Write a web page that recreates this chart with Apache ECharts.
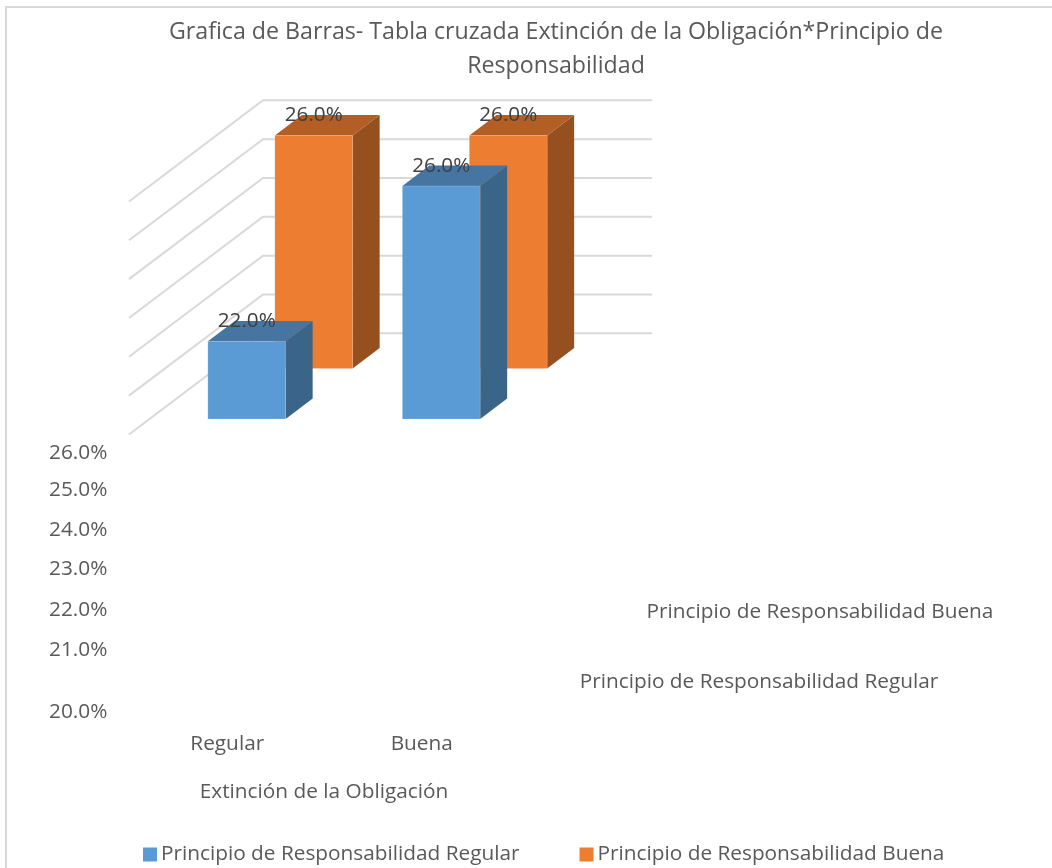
<!DOCTYPE html>
<html><head><meta charset="utf-8">
<style>html,body{margin:0;padding:0;background:#fff}#c{width:1052px;height:868px}</style>
<script src="https://cdn.jsdelivr.net/npm/echarts@6/dist/echarts.min.js"></script>
</head><body><div id="c"></div>
<script>
const categories = ['Regular', 'Buena'];
const regularValues = [22, 26];
const buenaValues = [26, 26];
const gridValues = [20, 21, 22, 23, 24, 25, 26];
const valueTickLabels = ['26.0%', '25.0%', '24.0%', '23.0%', '22.0%', '21.0%', '20.0%'];
const valueTickY = [452, 489, 529, 568, 609, 649, 711];
const seriesNames = ['Principio de Responsabilidad Regular', 'Principio de Responsabilidad Buena'];
const titleLines = 'Grafica de Barras- Tabla cruzada Extinción de la Obligación*Principio de\nResponsabilidad';
const xAxisTitle = 'Extinción de la Obligación';

const FONT = '"Open Sans", sans-serif';
const SLOPE = 0.755;
const BAR_DEPTH = 27, BUENA_DEPTH = 67, WALL_DEPTH = 113.5, FRONT_DEPTH = -20.5;
const shift = (p, d) => [p[0] + d, p[1] - d * SLOPE];

function barRender(depth, fc, tc, sc) {
  return function (params, api) {
    const idx = api.value(0), val = api.value(1);
    const top = shift(api.coord([idx, val]), depth);
    const base = shift(api.coord([idx, 20]), depth);
    const w = api.size([1, 0])[0] * 0.4;
    const l = top[0] - w / 2, r = top[0] + w / 2;
    return { type: 'group', children: [
      { type: 'polygon', shape: { points: [[r, top[1]], shift([r, top[1]], BAR_DEPTH), shift([r, base[1]], BAR_DEPTH), [r, base[1]]] }, style: { fill: sc } },
      { type: 'polygon', shape: { points: [[l, top[1]], shift([l, top[1]], BAR_DEPTH), shift([r, top[1]], BAR_DEPTH), [r, top[1]]] }, style: { fill: tc } },
      { type: 'rect', shape: { x: l, y: top[1], width: w, height: base[1] - top[1] }, style: { fill: fc, stroke: 'rgba(255,255,255,0.15)', lineWidth: 1 } }
    ] };
  };
}
function labelRender(depth) {
  return function (params, api) {
    const p = shift(api.coord([api.value(0), api.value(1)]), depth);
    return { type: 'text', z2: 100, style: { x: p[0], y: p[1] - 20, text: api.value(1).toFixed(1) + '%', align: 'center', verticalAlign: 'middle', font: '20.7px ' + FONT, fill: '#404040' } };
  };
}
function gridRender(params, api) {
  const v = api.value(0);
  const a = api.coord([0, v]);
  const xL = a[0] - api.size([1, 0])[0] / 2;
  const xR = xL + api.size([1, 0])[0] * categories.length;
  return { type: 'polyline', shape: { points: [shift([xL, a[1]], FRONT_DEPTH), shift([xL, a[1]], WALL_DEPTH), shift([xR, a[1]], WALL_DEPTH)] }, style: { fill: 'none', stroke: '#d9d9d9', lineWidth: 2 } };
}
const toData = vals => vals.map((v, i) => [i, v]);
const txt = (x, y, text, align, size, fill) => ({ type: 'text', x, y, style: { text, align: align, verticalAlign: 'middle', font: size + 'px ' + FONT, fill: fill || '#595959', lineHeight: 34 }, z: 10 });

const chart = echarts.init(document.getElementById('c'), null, { renderer: 'canvas' });
chart.setOption({
  animation: false,
  backgroundColor: '#fff',
  title: { show: false },
  grid: [
    { left: 149.5, width: 389, top: 186, height: 233 },
    { left: 130, width: 389, top: 419, height: 310 }
  ],
  xAxis: [
    { type: 'category', data: categories, gridIndex: 0, show: false, boundaryGap: true },
    { type: 'category', data: categories, gridIndex: 1, boundaryGap: true, axisLine: { show: false }, axisTick: { show: false }, axisLabel: { color: '#595959', fontFamily: FONT, fontSize: 20.8, margin: 5 } }
  ],
  yAxis: [
    { type: 'value', min: 20, max: 26, interval: 1, gridIndex: 0, show: false },
    { type: 'value', gridIndex: 1, show: false }
  ],
  legend: {
    left: 138, top: 839, itemWidth: 14, itemHeight: 14, itemGap: 60, icon: 'rect',
    data: seriesNames,
    textStyle: { color: '#595959', fontFamily: FONT, fontSize: 20.8, padding: [0, 0, 0, -1] }
  },
  series: [
    { type: 'custom', name: 'grid', coordinateSystem: 'cartesian2d', data: gridValues.map(v => [v]), encode: { y: 0 }, renderItem: gridRender, silent: true, z: 1 },
    { type: 'custom', name: seriesNames[1], data: toData(buenaValues), encode: { x: 0, y: 1 }, renderItem: barRender(BUENA_DEPTH, '#ED7D31', '#B25E25', '#964F1E'), itemStyle: { color: '#ED7D31' }, z: 2 },
    { type: 'custom', name: seriesNames[0], data: toData(regularValues), encode: { x: 0, y: 1 }, renderItem: barRender(0, '#5B9BD5', '#4675A1', '#3A6488'), itemStyle: { color: '#5B9BD5' }, z: 3 },
    { type: 'custom', name: 'l1', data: toData(buenaValues), encode: { x: 0, y: 1 }, renderItem: labelRender(BUENA_DEPTH), silent: true, z: 5 },
    { type: 'custom', name: 'l0', data: toData(regularValues), encode: { x: 0, y: 1 }, renderItem: labelRender(0), silent: true, z: 5 }
  ],
  graphic: [
    { type: 'polyline', shape: { points: [[6, 868], [6, 7], [1052, 7]] }, style: { stroke: '#d9d9d9', lineWidth: 2, fill: 'none' } },
    txt(556, 49, titleLines, 'center', 23.2),
    txt(324, 792, xAxisTitle, 'center', 20.8),
    txt(820, 612, seriesNames[1], 'center', 20.8),
    txt(759, 682, seriesNames[0], 'center', 20.8)
  ].concat(valueTickLabels.map((t, i) => txt(49, valueTickY[i] + 1, t, 'left', 20.8)))
});
</script></body></html>
